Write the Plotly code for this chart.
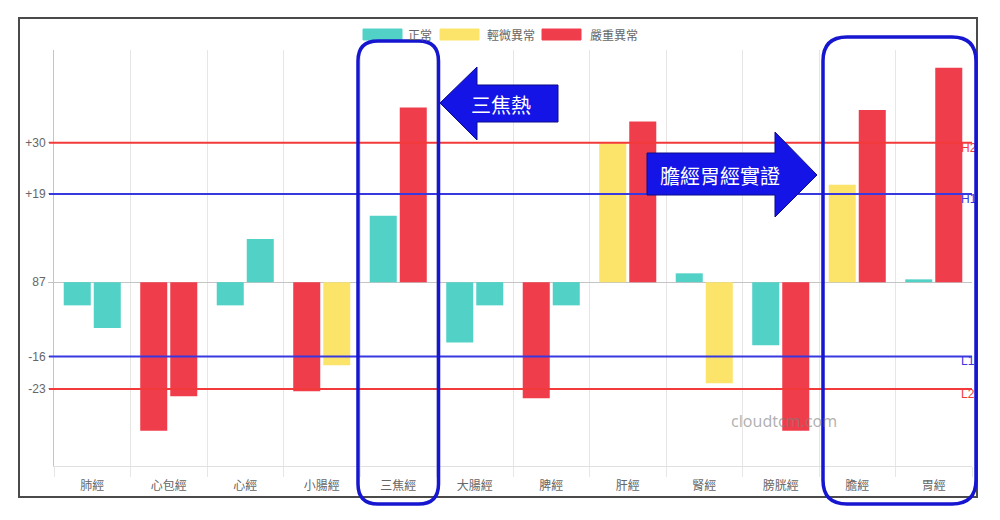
import plotly.graph_objects as go

# ---------------- data ----------------
categories = ["肺經", "心包經", "心經", "小腸經", "三焦經", "大腸經",
              "脾經", "肝經", "腎經", "膀胱經", "膽經", "胃經"]
left_values = [-5.0, -32.0, -5.0, -23.5, 14.3, -13.0, -25.0, 30.0, 1.9, -13.6, 21.0, 0.6]
right_values = [-9.9, -24.6, 9.3, -17.9, 37.6, -5.0, -5.0, 34.6, -21.8, -32.0, 37.1, 46.2]
left_status = ["正常", "嚴重異常", "正常", "嚴重異常", "正常", "正常",
               "嚴重異常", "輕微異常", "正常", "正常", "輕微異常", "正常"]
right_status = ["正常", "嚴重異常", "正常", "輕微異常", "嚴重異常", "正常",
                "正常", "嚴重異常", "輕微異常", "嚴重異常", "嚴重異常", "嚴重異常"]
legend_names = ["正常", "輕微異常", "嚴重異常"]
tick_values = [30, 19, 0, -16, -23]
tick_labels = ["+30", "+19", "87", "-16", "-23"]
ref_names = ["H2", "H1", "L1", "L2"]
ref_values = [30, 19, -16, -23]

status_colors = {"正常": "#52d1c7", "輕微異常": "#fce46b", "嚴重異常": "#f03d4c"}
ref_colors = {"H2": "#f23a3a", "H1": "#3838e0", "L1": "#3838e0", "L2": "#f23a3a"}

# ---------------- layout geometry (screen pixels) ----------------
SCREEN_W, SCREEN_H = 1000, 520
OFF = 8  # page body margin
W, H = SCREEN_W - OFF, SCREEN_H - OFF
L, R, T, B = 54, 972, 50, 466
PW, PH = R - L, B - T
CW = PW / len(categories)


def px(x):
    return (x - L) / PW


def py(y):
    return (B - y) / PH


def pt(x, y):
    return f"{px(x):.5f},{py(y):.5f}"


def rrect(x0, y0, x1, y1, r):
    return (f"M {pt(x0 + r, y0)} L {pt(x1 - r, y0)} Q {pt(x1, y0)} {pt(x1, y0 + r)} "
            f"L {pt(x1, y1 - r)} Q {pt(x1, y1)} {pt(x1 - r, y1)} "
            f"L {pt(x0 + r, y1)} Q {pt(x0, y1)} {pt(x0, y1 - r)} "
            f"L {pt(x0, y0 + r)} Q {pt(x0, y0)} {pt(x0 + r, y0)} Z")


def poly(points):
    return "M " + " L ".join(pt(x, y) for x, y in points) + " Z"


font_family = "Liberation Sans, Noto Sans CJK TC, sans-serif"
cjk_family = "Noto Sans CJK TC, Liberation Sans, sans-serif"

fig = go.Figure()

fig.add_trace(go.Bar(
    x=categories, y=left_values, name="左",
    marker=dict(color=[status_colors[s] for s in left_status], line=dict(width=0)),
    showlegend=False, offsetgroup="a",
))
fig.add_trace(go.Bar(
    x=categories, y=right_values, name="右",
    marker=dict(color=[status_colors[s] for s in right_status], line=dict(width=0)),
    showlegend=False, offsetgroup="b",
))

# reference-line labels (as a text trace so the frames overdraw them)
fig.add_trace(go.Scatter(
    x=[px(961)] * len(ref_names), y=ref_values, text=ref_names,
    mode="text", textposition="bottom right", xaxis="x2",
    textfont=dict(size=12, color=[ref_colors[n] for n in ref_names], family=font_family),
    showlegend=False, cliponaxis=False, hoverinfo="skip",
))

shapes = []
annotations = []

# outer frame
shapes.append(dict(type="rect", xref="paper", yref="paper",
                   x0=px(19), x1=px(977), y0=py(497), y1=py(18),
                   line=dict(color="#4a4a4a", width=2), layer="below"))

# reference lines
for n, v in zip(ref_names, ref_values):
    shapes.append(dict(type="line", xref="paper", yref="y",
                       x0=px(49), x1=1, y0=v, y1=v,
                       line=dict(color=ref_colors[n], width=2)))

# arrows
arrow_color = "#1414e6"
shapes.append(dict(type="path", xref="paper", yref="paper",
                   path=poly([(440, 103), (477, 67), (477, 85), (558, 85),
                              (558, 122), (477, 122), (477, 140)]),
                   fillcolor=arrow_color, line=dict(color="#0c0c8a", width=1)))
shapes.append(dict(type="path", xref="paper", yref="paper",
                   path=poly([(647, 153), (775, 153), (775, 132), (817, 175),
                              (775, 217), (775, 195), (647, 195)]),
                   fillcolor=arrow_color, line=dict(color="#0c0c8a", width=1)))

# highlight frames around categories
box_color = "#1616d0"
i1 = categories.index("三焦經")
shapes.append(dict(type="path", xref="paper", yref="paper",
                   path=rrect(L + i1 * CW - 2, 41, L + (i1 + 1) * CW + 2, 504, 20),
                   line=dict(color=box_color, width=3.5)))
i2 = categories.index("膽經")
shapes.append(dict(type="path", xref="paper", yref="paper",
                   path=rrect(L + i2 * CW + 4, 37, 976, 504, 24),
                   line=dict(color=box_color, width=3.5)))

# manual legend
legend_x = [(363, 406), (440, 485), (542, 588)]
for name, (sx, tx) in zip(legend_names, legend_x):
    shapes.append(dict(type="rect", xref="paper", yref="paper",
                       x0=px(sx), x1=px(sx + 39), y0=py(40), y1=py(29),
                       fillcolor=status_colors[name],
                       line=dict(color=status_colors[name], width=1), layer="below"))
    annotations.append(dict(xref="paper", yref="paper", x=px(tx), y=py(34.5),
                            xanchor="left", yanchor="middle", text=name, showarrow=False,
                            font=dict(size=12, color="#666666", family=cjk_family)))

# arrow texts
annotations.append(dict(xref="paper", yref="paper", x=px(501), y=py(104),
                        text="三焦熱", showarrow=False, xanchor="center", yanchor="middle",
                        font=dict(size=20, color="white", family=cjk_family)))
annotations.append(dict(xref="paper", yref="paper", x=px(720), y=py(175),
                        text="膽經胃經實證", showarrow=False, xanchor="center", yanchor="middle",
                        font=dict(size=20, color="white", family=cjk_family)))

# watermark
annotations.append(dict(xref="paper", yref="paper", x=px(784), y=py(421),
                        text="cloudtcm.com", showarrow=False, xanchor="center", yanchor="middle",
                        font=dict(size=16, color="rgba(125,125,125,0.6)", family="Noto Sans, sans-serif")))

fig.update_layout(
    width=W, height=H,
    margin=dict(l=L - OFF, r=SCREEN_W - R, t=T - OFF, b=SCREEN_H - B, pad=0),
    paper_bgcolor="white", plot_bgcolor="white",
    barmode="group", bargap=0.215, bargroupgap=0.1,
    showlegend=False,
    font=dict(family=font_family, size=12, color="#666666"),
    xaxis=dict(
        type="category", tickson="boundaries", showgrid=True, gridcolor="#e6e6e6",
        ticks="outside", ticklen=10, tickcolor="#e6e6e6", ticklabelstandoff=9,
        showline=True, linecolor="#e0e0e0", linewidth=1,
        tickfont=dict(size=12, color="#666666", family=cjk_family),
        zeroline=False, fixedrange=True,
    ),
    xaxis2=dict(overlaying="x", range=[0, 1], visible=False, fixedrange=True),
    yaxis=dict(
        range=[-39.6, 50], tickvals=tick_values, ticktext=tick_labels,
        showgrid=False, zeroline=True, zerolinecolor="#c4c4c4", zerolinewidth=1,
        ticks="outside", ticklen=5, tickcolor="#c4c4c4",
        showline=True, linecolor="#c4c4c4", linewidth=1,
        tickfont=dict(size=12, color="#666666"), fixedrange=True,
    ),
    shapes=shapes,
    annotations=annotations,
)

fig.write_html("out.html")
